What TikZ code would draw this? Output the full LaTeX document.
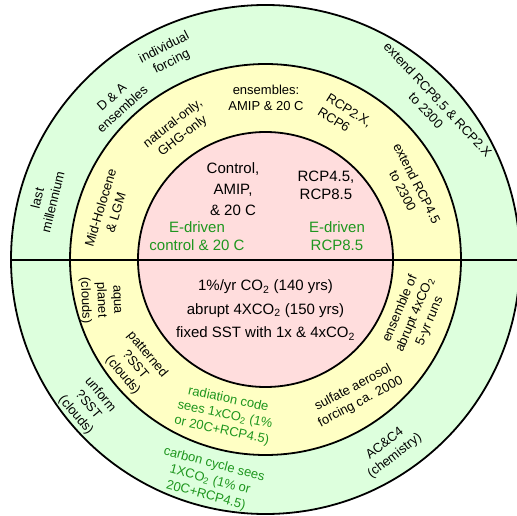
\documentclass[tikz,border=0pt]{standalone}
\usepackage{fontspec}
\setmainfont{Liberation Sans}
\definecolor{ringgreen}{RGB}{221,255,221}
\definecolor{ringyellow}{RGB}{255,255,196}
\definecolor{ringpink}{RGB}{255,221,221}
\definecolor{txtgreen}{RGB}{30,150,30}
\tikzset{
  ringtxt/.style={font=\fontsize{13}{16}\selectfont, align=center, inner sep=0pt, text=black},
  coretxt/.style={font=\fontsize{15}{18}\selectfont, align=center, inner sep=0pt, text=black},
  greentxt/.style={text=txtgreen},
  ringline/.style={draw=black, line width=1.8pt}
}
\begin{document}
\begin{tikzpicture}[x=1pt,y=1pt]
\useasboundingbox (0,0) rectangle (517,-516);
\clip (0,0) rectangle (517,-516);
\coordinate (c) at (265.5,-259.5);
% rings
\fill[ringgreen] (c) circle (254.5);
\fill[ringyellow] (c) circle (195.5);
\fill[ringpink] (c) circle (127.5);
\draw[ringline] (c) circle (254.5);
\draw[ringline] (c) circle (195.5);
\draw[ringline] (c) circle (127.5);
\coordinate (hl) at (11,-259.5);
\coordinate (hr) at (525,-259.5);
\draw[draw=black, line width=2pt] (hl) -- (hr);
% outer ring, upper
\node[ringtxt, rotate=27] (indiv) at (168,-55) {individual\\forcing};
\node[ringtxt, rotate=42] (da) at (117,-103) {D \& A\\ensembles};
\node[ringtxt, rotate=76] (lastm) at (45,-200) {last\\millennium};
\node[ringtxt, rotate=-47] (ext85) at (432,-105) {extend RCP8.5 \& RCP2.X\\to 2300};
% middle ring, upper
\node[ringtxt] (ens) at (266,-98) {ensembles:\\AMIP \& 20 C};
\node[ringtxt, rotate=38] (nat) at (178,-130) {natural-only,\\GHG-only};
\node[ringtxt, rotate=73] (mid) at (108,-210) {Mid-Holocene\\\& LGM};
\node[ringtxt, rotate=-32, align=left] (rcp2) at (345,-117) {RCP2.X,\\RCP6};
\node[ringtxt, rotate=-63] (ext45) at (410,-187) {extend RCP4.5\\to 2300};
% core, upper
\node[coretxt, font=\fontsize{15}{21}\selectfont] (ctrl) at (233,-189) {Control,\\AMIP,\\\& 20 C};
\node[coretxt, greentxt] (edc) at (197,-236) {E-driven\\control \& 20 C};
\node[coretxt] (rcp) at (326,-185) {RCP4.5,\\RCP8.5};
\node[coretxt, greentxt] (edr) at (337,-236) {E-driven\\RCP8.5};
% core, lower
\node[coretxt, font=\fontsize{15}{23.5}\selectfont] (co2) at (265.5,-310)
  {1\%/yr CO\textsubscript{2} (140 yrs)\\abrupt 4XCO\textsubscript{2} (150 yrs)\\fixed SST with 1x \& 4xCO\textsubscript{2}};
% middle ring, lower
\node[ringtxt, rotate=-88] (aqua) at (100,-300) {aqua\\planet\\(clouds)};
\node[ringtxt, rotate=-50] (patt) at (135,-365) {patterned\\?SST\\(clouds)};
\node[ringtxt, greentxt, rotate=-12] (rad) at (225,-415) {radiation code\\sees 1xCO\textsubscript{2} (1\%\\or 20C+RCP4.5)};
\node[ringtxt, rotate=28] (sulf) at (357,-395) {sulfate aerosol\\forcing ca. 2000};
\node[ringtxt, rotate=67] (abr) at (415,-315) {ensemble of\\abrupt 4xCO\textsubscript{2}\\5-yr runs};
% outer ring, lower
\node[ringtxt, rotate=-50] (unf) at (88,-405) {unform\\?SST\\(clouds)};
\node[ringtxt, greentxt, rotate=-15] (carb) at (210,-480) {carbon cycle sees\\1XCO\textsubscript{2} (1\% or\\20C+RCP4.5)};
\node[ringtxt, rotate=38] (chem) at (390,-450) {AC\&C4\\(chemistry)};
\end{tikzpicture}
\end{document}
